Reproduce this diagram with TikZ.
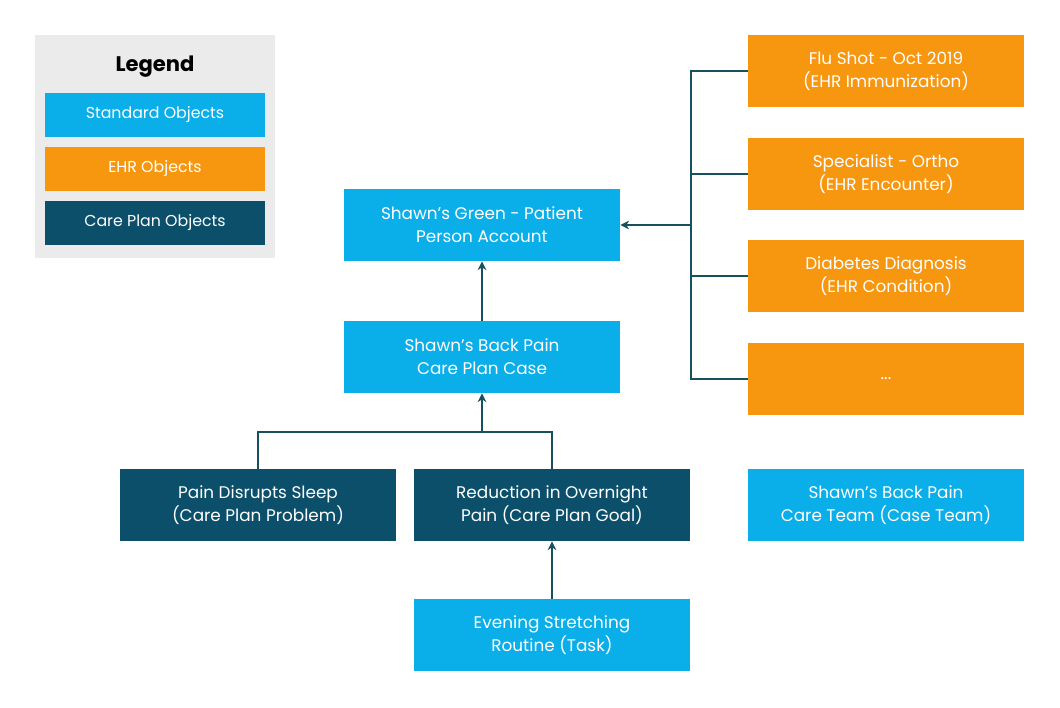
\documentclass[tikz,border=0pt]{standalone}
\usepackage{fontspec}
\setmainfont{Poppins}
\usetikzlibrary{positioning,arrows.meta}
\definecolor{stdblue}{HTML}{0AAEE8}
\definecolor{ehrorange}{HTML}{F7960F}
\definecolor{cpteal}{HTML}{0C4F6A}
\definecolor{lineteal}{HTML}{17505F}
\definecolor{legendgray}{HTML}{EBEBEB}
\begin{document}
\begin{tikzpicture}[x=0.02cm,y=-0.02cm,
  box/.style={rectangle, text=white, align=center, inner sep=0pt,
    minimum width=5.52cm, minimum height=1.44cm,
    font=\fontsize{9.6}{13}\selectfont},
  std/.style={box, fill=stdblue},
  ehr/.style={box, fill=ehrorange},
  cp/.style={box, fill=cpteal},
  key/.style={rectangle, text=white, inner sep=0pt,
    minimum width=4.4cm, minimum height=0.88cm,
    font=\fontsize{9}{11}\selectfont},
  link/.style={draw=lineteal, line width=0.8pt},
  arr/.style={link, -{Stealth[length=5pt,width=5pt]}}]
  \useasboundingbox (0,0) rectangle (1060,707);

  % legend
  \fill[legendgray] (35,35) rectangle (275,258);
  \node[font=\fontsize{12}{14}\selectfont\bfseries] (legend) at (155,67) {Legend};
  \node[key, fill=stdblue] (kstd) at (155,115) {Standard Objects};
  \node[key, fill=ehrorange] (kehr) at (155,169) {EHR Objects};
  \node[key, fill=cpteal] (kcp) at (155,223) {Care Plan Objects};

  % main objects
  \node[std] (patient) at (482,225) {Shawn’s Green - Patient\\Person Account};
  \node[std] (case) at (482,357) {Shawn’s Back Pain\\Care Plan Case};
  \node[cp] (problem) at (258,505) {Pain Disrupts Sleep\\(Care Plan Problem)};
  \node[cp] (goal) at (552,505) {Reduction in Overnight\\Pain (Care Plan Goal)};
  \node[std] (task) at (552,635) {Evening Stretching\\Routine (Task)};
  \node[std] (team) at (886,505) {Shawn’s Back Pain\\Care Team (Case Team)};

  % ehr objects
  \node[ehr] (flu) at (886,71) {Flu Shot - Oct 2019\\(EHR Immunization)};
  \node[ehr] (ortho) at (886,174) {Specialist - Ortho\\(EHR Encounter)};
  \node[ehr] (diab) at (886,276) {Diabetes Diagnosis\\(EHR Condition)};
  \node[ehr] (more) at (886,379) {...};

  % connectors
  \coordinate (bus) at (691,225);
  \foreach \n in {flu,ortho,diab,more}
    \draw[link] (\n.west) -- (\n.west -| bus) -- (bus);
  \draw[arr] (bus) -- (patient.east);
  \draw[arr] (case) -- (patient);
  \coordinate (join) at (482,432);
  \draw[link] (problem.north) |- (join) -| (goal.north);
  \draw[arr] (join) -- (case.south);
  \draw[arr] (task) -- (goal);
\end{tikzpicture}
\end{document}
